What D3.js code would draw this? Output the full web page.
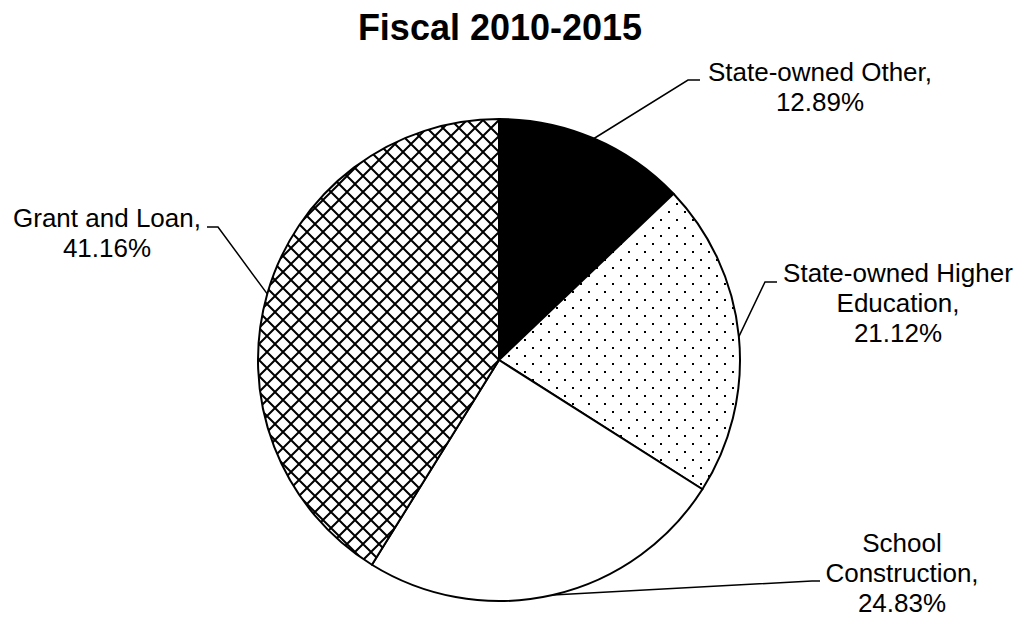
<!DOCTYPE html>
<html>
<head>
<meta charset="utf-8">
<script src="https://cdn.jsdelivr.net/npm/d3@7"></script>
<style>
  body{margin:0;background:#fff;}
  text{font-family:"Liberation Sans",Arial,sans-serif;fill:#000;}
</style>
</head>
<body>
<div id="chart"></div>
<script>
// data
var categories = ["State-owned Other","State-owned Higher Education","School Construction","Grant and Loan"]
var values = [12.89, 21.12, 24.83, 41.16]
var labelLines = [
    ["State-owned Other,","12.89%"],
    ["State-owned Higher","Education,","21.12%"],
    ["School","Construction,","24.83%"],
    ["Grant and Loan,","41.16%"]
]
var fills = ["#000","url(#dots)","#fff","url(#cross)"]

// layout
var width = 1023, height = 618
var cx = 499, cy = 360, r = 241
// label centre x, first baseline, leader elbow and end
var labelPos = [
    {x:820, y:81,  ex:688, ey:80,  tx:700, ty:80},
    {x:898, y:282, ex:765, ey:282, tx:777, ty:282},
    {x:902, y:552, ex:812, ey:581, tx:820, ty:581},
    {x:107, y:227, ex:218, ey:227, tx:207, ty:227}
]
var lineH = 30

var svg = d3.select("#chart").append("svg")
    .attr("width",width)
    .attr("height",height)

var defs = svg.append("defs")

//点状填充
var dots = defs.append("pattern")
    .attr("id","dots")
    .attr("patternUnits","userSpaceOnUse")
    .attr("width",16).attr("height",16)
    .attr("x",1).attr("y",3)
dots.append("rect").attr("width",16).attr("height",16).attr("fill","#fff")
dots.append("rect").attr("x",0).attr("y",0).attr("width",2).attr("height",2).attr("fill","#000")
dots.append("rect").attr("x",8).attr("y",8).attr("width",2).attr("height",2).attr("fill","#000")

//网格填充
var cross = defs.append("pattern")
    .attr("id","cross")
    .attr("patternUnits","userSpaceOnUse")
    .attr("width",16).attr("height",16)
cross.append("rect").attr("width",16).attr("height",16).attr("fill","#fff")
cross.append("path")
    .attr("d","M0,0L16,16M16,0L0,16")
    .attr("stroke","#000")
    .attr("stroke-width",2)
    .attr("fill","none")

svg.append("text")
    .attr("x",500)
    .attr("y",40)
    .attr("text-anchor","middle")
    .style("font-size","36px")
    .style("font-weight","bold")
    .text("Fiscal 2010-2015")

var pie = d3.pie().sort(null).value(d=>d)
var arcs = pie(values)
var arc = d3.arc().innerRadius(0).outerRadius(r)
var edge = d3.arc().innerRadius(r).outerRadius(r)

var g = svg.append("g").attr("transform","translate("+cx+","+cy+")")

g.selectAll("path.slice")
    .data(arcs)
    .join("path")
    .attr("class","slice")
    .attr("d",arc)
    .attr("fill",(d,i)=>fills[i])
    .attr("stroke","#000")
    .attr("stroke-width",2)
    .attr("stroke-linejoin","round")

//引线
svg.selectAll("path.leader")
    .data(arcs)
    .join("path")
    .attr("class","leader")
    .attr("d",(d,i)=>{
        var p = edge.centroid(d)
        var l = labelPos[i]
        return "M"+(p[0]+cx)+","+(p[1]+cy)+"L"+l.ex+","+l.ey+"L"+l.tx+","+l.ty
    })
    .attr("fill","none")
    .attr("stroke","#000")
    .attr("stroke-width",1.5)

//标签
var labels = svg.selectAll("text.label")
    .data(categories)
    .join("text")
    .attr("class","label")
    .attr("text-anchor","middle")
    .style("font-size","26px")

labels.each(function(d,i){
    var t = d3.select(this)
    labelLines[i].forEach((s,k)=>{
        t.append("tspan")
            .attr("x",labelPos[i].x)
            .attr("y",labelPos[i].y+k*lineH)
            .text(s)
    })
})
</script>
</body>
</html>
